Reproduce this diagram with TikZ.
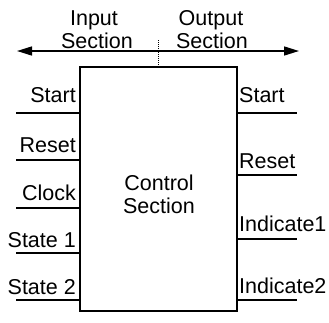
\documentclass[tikz,border=0pt]{standalone}
\usepackage{fontspec}
\setmainfont{Liberation Sans}
\usetikzlibrary{arrows.meta}
\begin{document}
\begin{tikzpicture}[x=1pt,y=-1pt,
  lbl/.style={inner sep=0pt,font=\fontsize{21.5}{25}\selectfont},
  wire/.style={line width=1.4pt},
  frame/.style={draw,line width=1.6pt,inner sep=0pt},
  divider/.style={line width=1pt,densely dotted}]
\useasboundingbox (0,0) rectangle (329,322);

% control block
\node[frame,minimum width=157pt,minimum height=244pt,anchor=north west] (ctrl) at (79,66) {};
\node[lbl,anchor=base] (ctl1) at (159,190) {Control};
\node[lbl,anchor=base] (ctl2) at (159,213) {Section};

% section arrow and divider
\coordinate (al) at (17,51);
\coordinate (ar) at (299,51);
\draw[line width=1.5pt,{Triangle[length=15pt,width=9pt]}-{Triangle[length=15pt,width=9pt]}] (al) -- (ar);
\coordinate (dtop) at (158,40);
\draw[divider] (dtop) -- (dtop |- ctrl.north);
\node[lbl,anchor=base] (in1) at (94,25) {Input};
\node[lbl,anchor=base] (in2) at (97,48) {Section};
\node[lbl,anchor=base] (out1) at (211,25) {Output};
\node[lbl,anchor=base] (out2) at (212,48) {Section};

% input wires
\foreach \name/\txt/\ly/\by in {si/Start/113/102, ri/Reset/160/152, ci/Clock/208/200, s1/State 1/253/247, s2/State 2/300/294}{
  \coordinate (\name) at (16,\ly);
  \draw[wire] (\name) -- (\name -| ctrl.west);
  \node[lbl,anchor=base east] (\name t) at (76,\by) {\txt};
}

% output wires
\foreach \name/\txt/\ly/\by in {so/Start/113/102, ro/Reset/175/168, i1/Indicate1/239/231, i2/Indicate2/300/293}{
  \coordinate (\name) at (297,\ly);
  \draw[wire] (\name -| ctrl.east) -- (\name);
  \node[lbl,anchor=base west] (\name t) at (239,\by) {\txt};
}
\end{tikzpicture}
\end{document}
